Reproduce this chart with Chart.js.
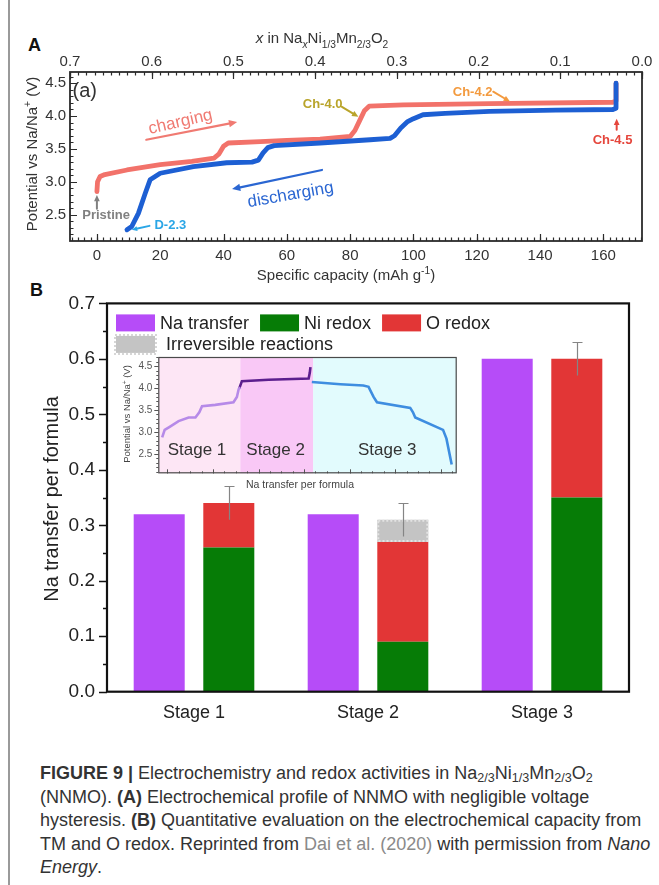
<!DOCTYPE html>
<html><head><meta charset="utf-8">
<script src="https://cdn.jsdelivr.net/npm/chart.js@4.4.1/dist/chart.umd.min.js"></script>
<style>
html,body{margin:0;padding:0;background:#fff;}
body{width:659px;height:885px;position:relative;overflow:hidden;font-family:"Liberation Sans",Arial,sans-serif;}
#edge{position:absolute;left:8px;top:0;width:2px;height:885px;background:#9a9a9a;}
canvas{position:absolute;}
#ca{left:0;top:0;}
#cb{left:0;top:280px;}
#ci{left:100px;top:345px;}
.letter{position:absolute;font:bold 18px "Liberation Sans",Arial,sans-serif;color:#111;}
#caption{position:absolute;left:40px;top:762px;white-space:nowrap;font-family:"Liberation Sans Narrow","Arial Narrow","Liberation Sans",Arial,sans-serif;font-size:18px;line-height:23.5px;color:#333;}
#caption sub{font-size:70%;vertical-align:-0.25em;line-height:0;}
#caption .lnk{color:#8a8a8a;}
</style></head>
<body>
<div id="edge"></div>
<div class="letter" style="left:28px;top:35px;">A</div>
<div class="letter" style="left:30px;top:280px;">B</div>
<canvas id="ca" width="659" height="290"></canvas>
<canvas id="cb" width="659" height="460"></canvas>
<canvas id="ci" width="370" height="150"></canvas>
<div id="caption"><b>FIGURE 9 |</b> Electrochemistry and redox activities in Na<sub>2/3</sub>Ni<sub>1/3</sub>Mn<sub>2/3</sub>O<sub>2</sub><br>(NNMO). <b>(A)</b> Electrochemical profile of NNMO with negligible voltage<br>hysteresis. <b>(B)</b> Quantitative evaluation on the electrochemical capacity from<br>TM and O redox. Reprinted from <span class="lnk">Dai et al. (2020)</span> with permission from <i>Nano</i><br><i>Energy</i>.</div>
<script>
// ---------------- DATA ----------------
// Panel A: charge / discharge profile (capacity in mAh/g, potential in V)
const chargeCapacity = [0, 0.2, 1, 2.5, 9.5, 20, 30, 37, 38.5, 40, 41.5, 51.6, 60, 70.5, 80, 81.5, 83, 84.5, 86, 96.8, 124, 163, 164, 164];
const chargeVoltage  = [2.85, 3.0, 3.08, 3.11, 3.18, 3.26, 3.31, 3.36, 3.42, 3.54, 3.59, 3.61, 3.63, 3.65, 3.69, 3.78, 3.93, 4.08, 4.15, 4.17, 4.19, 4.21, 4.23, 4.5];
const dischargeCapacity = [164, 164, 163, 145, 124, 110, 103, 100, 98, 96, 94, 92.6, 86.3, 70.5, 56, 54, 52.5, 51, 49, 41, 30.5, 20, 16.8, 15.3, 13.1, 11, 9.5];
const dischargeVoltage  = [4.5, 4.12, 4.1, 4.09, 4.07, 4.04, 4.02, 3.96, 3.91, 3.82, 3.7, 3.66, 3.64, 3.59, 3.55, 3.52, 3.44, 3.33, 3.30, 3.29, 3.23, 3.13, 3.03, 2.83, 2.52, 2.32, 2.27];
const capacityTicks = [0, 20, 40, 60, 80, 100, 120, 140, 160];
const naContentTicks = [0.7, 0.6, 0.5, 0.4, 0.3, 0.2, 0.1, 0.0];
const voltageTicks = [2.5, 3.0, 3.5, 4.0, 4.5];

// Panel B: bars
const stages = ['Stage 1', 'Stage 2', 'Stage 3'];
const naTransfer = [0.32, 0.32, 0.60];
const niRedox = [0.26, 0.09, 0.35];
const oRedox = [0.08, 0.18, 0.25];
const irreversible = [0, 0.04, 0];
const errorSize = [0.03, 0.03, 0.03];
const naTicks = [0.0, 0.1, 0.2, 0.3, 0.4, 0.5, 0.6, 0.7];

// Panel B inset: potential vs Na transfer per formula
const insetStage1X = [-0.023, -0.012, 0.01, 0.049, 0.093, 0.123, 0.14, 0.152, 0.21, 0.29, 0.305, 0.313, 0.32];
const insetStage1V = [2.88, 3.05, 3.12, 3.25, 3.33, 3.33, 3.45, 3.59, 3.62, 3.68, 3.80, 3.98, 4.02];
const insetStage2X = [0.316, 0.327, 0.444, 0.62, 0.625, 0.628];
const insetStage2V = [4.0, 4.16, 4.19, 4.22, 4.35, 4.48];
const insetStage3X = [0.634, 0.759, 0.86, 0.883, 0.905, 0.92, 1.066, 1.078, 1.088, 1.21, 1.225, 1.248];
const insetStage3V = [4.14, 4.09, 4.06, 4.03, 3.80, 3.68, 3.55, 3.45, 3.33, 3.05, 2.85, 2.26];
const insetStageBounds = [0.32, 0.64];
const insetStageNames = ['Stage 1', 'Stage 2', 'Stage 3'];
const insetVoltageTicks = [2.5, 3.0, 3.5, 4.0, 4.5];

// ---------------- HELPERS ----------------
const FF = '"Liberation Sans", Arial, sans-serif';
Chart.defaults.font.family = FF;
const pts = (xs, ys) => xs.map((v, i) => ({x: v, y: ys[i]}));
const steps = (a, b, s) => { const r = []; for (let v = a; v <= b + 1e-9; v += s) r.push(+v.toFixed(4)); return r; };

function drawRich(ctx, segs, cx, cy, size, color, rot) {
  ctx.save();
  ctx.translate(cx, cy); ctx.rotate(rot || 0);
  const parts = segs.map(s => {
    const fs = (s.k === 'sub' || s.k === 'sup') ? size * 0.68 : size;
    const font = (s.i ? 'italic ' : '') + (s.b ? 'bold ' : '') + fs + 'px ' + FF;
    ctx.font = font;
    return {s, font, w: ctx.measureText(s.t).width};
  });
  const total = parts.reduce((a, p) => a + p.w, 0);
  let x = -total / 2;
  ctx.fillStyle = color; ctx.textAlign = 'left'; ctx.textBaseline = 'alphabetic';
  const base = size * 0.36;
  parts.forEach(p => {
    ctx.font = p.font;
    const dy = p.s.k === 'sub' ? size * 0.28 : (p.s.k === 'sup' ? -size * 0.4 : 0);
    ctx.fillText(p.s.t, x, base + dy);
    x += p.w;
  });
  ctx.restore();
}
function arrow(ctx, x1, y1, x2, y2, color, w, head) {
  const ang = Math.atan2(y2 - y1, x2 - x1);
  ctx.save();
  ctx.strokeStyle = color; ctx.fillStyle = color; ctx.lineWidth = w; ctx.lineCap = 'round';
  ctx.beginPath(); ctx.moveTo(x1, y1);
  ctx.lineTo(x2 - Math.cos(ang) * head * 0.8, y2 - Math.sin(ang) * head * 0.8); ctx.stroke();
  ctx.beginPath();
  ctx.moveTo(x2, y2);
  ctx.lineTo(x2 - head * Math.cos(ang - 0.42), y2 - head * Math.sin(ang - 0.42));
  ctx.lineTo(x2 - head * Math.cos(ang + 0.42), y2 - head * Math.sin(ang + 0.42));
  ctx.closePath(); ctx.fill();
  ctx.restore();
}
function hTicks(ctx, scale, vals, yPos, len) {
  ctx.beginPath();
  vals.forEach(v => { if (v < Math.min(scale.min, scale.max) - 1e-9 || v > Math.max(scale.min, scale.max) + 1e-9) return;
    const px = Math.round(scale.getPixelForValue(v)) + 0.5; ctx.moveTo(px, yPos); ctx.lineTo(px, yPos + len); });
  ctx.stroke();
}
function vTicks(ctx, scale, vals, xPos, len) {
  ctx.beginPath();
  vals.forEach(v => { if (v < scale.min - 1e-9 || v > scale.max + 1e-9) return;
    const py = Math.round(scale.getPixelForValue(v)) + 0.5; ctx.moveTo(xPos, py); ctx.lineTo(xPos + len, py); });
  ctx.stroke();
}

// ---------------- PANEL A ----------------
const annA = [
  {type: 'text', t: [{t: '(a)'}], x: -7.7, y: 4.37, size: 20, color: '#333', align: 'left'},
  {type: 'text', t: [{t: 'charging'}], x: 26.3, y: 3.93, size: 17, color: '#f07a72', rot: -13},
  {type: 'arrow', x1: 15.6, y1: 3.64, x2: 44.3, y2: 3.91, color: '#f07a72', w: 2.2, head: 9},
  {type: 'text', t: [{t: 'discharging'}], x: 61.1, y: 2.82, size: 17, color: '#2a66d2', rot: -10},
  {type: 'arrow', x1: 71.1, y1: 3.18, x2: 42.7, y2: 2.89, color: '#2a66d2', w: 2.2, head: 9},
  {type: 'text', t: [{t: 'Pristine', b: 1}], x: 2.9, y: 2.5, size: 13, color: '#808080'},
  {type: 'arrow', x1: 0, y1: 2.59, x2: 0, y2: 2.80, color: '#808080', w: 2, head: 7},
  {type: 'text', t: [{t: 'D-2.3', b: 1}], x: 23.2, y: 2.36, size: 13, color: '#2aa6e6'},
  {type: 'arrow', x1: 16.6, y1: 2.33, x2: 11.0, y2: 2.27, color: '#2aa6e6', w: 2, head: 6},
  {type: 'text', t: [{t: 'Ch-4.0', b: 1}], x: 71.3, y: 4.2, size: 13, color: '#b9a42a'},
  {type: 'arrow', x1: 77.4, y1: 4.14, x2: 82.6, y2: 3.99, color: '#b9a42a', w: 2, head: 7},
  {type: 'text', t: [{t: 'Ch-4.2', b: 1}], x: 118.7, y: 4.37, size: 13, color: '#f39a3e'},
  {type: 'arrow', x1: 125.2, y1: 4.37, x2: 130.5, y2: 4.22, color: '#f39a3e', w: 2, head: 7},
  {type: 'text', t: [{t: 'Ch-4.5', b: 1}], x: 162.9, y: 3.64, size: 13, color: '#e5463c'},
  {type: 'arrow', x1: 164.2, y1: 3.79, x2: 164.2, y2: 3.96, color: '#e5463c', w: 2, head: 7}
];

const decorA = {
  id: 'decorA',
  afterDatasetsDraw(chart) {
    const {ctx, scales: {x, y}} = chart;
    annA.forEach(a => {
      if (a.type === 'text') {
        const px = x.getPixelForValue(a.x), py = y.getPixelForValue(a.y);
        if (a.align === 'left') {
          ctx.save(); ctx.font = a.size + 'px ' + FF; ctx.fillStyle = a.color; ctx.textBaseline = 'middle'; ctx.textAlign = 'left';
          ctx.fillText(a.t[0].t, px, py); ctx.restore();
        } else drawRich(ctx, a.t, px, py, a.size, a.color, (a.rot || 0) * Math.PI / 180);
      } else {
        arrow(ctx, x.getPixelForValue(a.x1), y.getPixelForValue(a.y1), x.getPixelForValue(a.x2), y.getPixelForValue(a.y2), a.color, a.w, a.head);
      }
    });
  },
  afterDraw(chart) {
    const {ctx, chartArea: a, scales: {x, x2, y}} = chart;
    ctx.save();
    ctx.strokeStyle = '#2b2b2b'; ctx.lineWidth = 1.2;
    hTicks(ctx, x, steps(-8, 172, 2), a.bottom, -3.5);
    hTicks(ctx, x, capacityTicks, a.bottom, -7);
    hTicks(ctx, x2, steps(0, 0.7, 0.01), a.top, 3.5);
    hTicks(ctx, x2, naContentTicks, a.top, 7);
    vTicks(ctx, y, steps(2.2, 4.6, 0.1), a.left, 3.5);
    vTicks(ctx, y, voltageTicks, a.left, 7);
    ctx.lineWidth = 1.8;
    ctx.strokeRect(a.left, a.top, a.right - a.left, a.bottom - a.top);
    ctx.restore();
    // axis titles
    drawRich(ctx, [{t: 'Potential vs Na/Na'}, {t: '+', k: 'sup'}, {t: ' (V)'}], 32, 154, 15, '#333', -Math.PI / 2);
    drawRich(ctx, [{t: 'Specific capacity (mAh g'}, {t: '-1', k: 'sup'}, {t: ')'}], 346, 275, 15, '#333');
    drawRich(ctx, [{t: 'x', i: 1}, {t: ' in Na'}, {t: 'x', k: 'sub', i: 1}, {t: 'Ni'}, {t: '1/3', k: 'sub'}, {t: 'Mn'}, {t: '2/3', k: 'sub'}, {t: 'O'}, {t: '2', k: 'sub'}], 322, 38, 15, '#333');
  }
};

const axisFontA = {size: 15, family: FF};
new Chart(document.getElementById('ca'), {
  type: 'scatter',
  data: {
    datasets: [
      {label: 'discharging', data: pts(dischargeCapacity, dischargeVoltage), showLine: true, borderColor: '#1d5fd3', borderWidth: 4.8, pointRadius: 0, order: 0, borderJoinStyle: 'round', borderCapStyle: 'round'},
      {label: 'charging', data: pts(chargeCapacity, chargeVoltage), showLine: true, borderColor: '#f2726a', borderWidth: 4.8, pointRadius: 0, order: 1, borderJoinStyle: 'round', borderCapStyle: 'round'},
      {label: 'top', data: [], xAxisID: 'x2', showLine: false, pointRadius: 0}
    ]
  },
  options: {
    responsive: false, animation: false,
    layout: {padding: {left: 0, right: 17, top: 0, bottom: 0}},
    plugins: {legend: {display: false}, tooltip: {enabled: false}},
    scales: {
      x: {type: 'linear', position: 'bottom', min: -8.5, max: 172.2,
        afterBuildTicks: s => { s.ticks = capacityTicks.map(v => ({value: v})); },
        afterFit: s => { s.height = 49; },
        grid: {display: false, drawTicks: false}, border: {display: false},
        ticks: {font: axisFontA, color: '#333', padding: 6, maxRotation: 0, autoSkip: false, callback: v => String(v)}},
      x2: {type: 'linear', position: 'top', min: 0, max: 0.7, reverse: true,
        afterBuildTicks: s => { s.ticks = naContentTicks.map(v => ({value: v})); },
        afterFit: s => { s.height = 72; },
        grid: {display: false, drawTicks: false}, border: {display: false},
        ticks: {font: axisFontA, color: '#333', padding: 1, maxRotation: 0, autoSkip: false, callback: v => Number(v).toFixed(1)}},
      y: {type: 'linear', min: 2.1, max: 4.67,
        afterBuildTicks: s => { s.ticks = voltageTicks.map(v => ({value: v})); },
        afterFit: s => { s.width = 70; },
        grid: {display: false, drawTicks: false}, border: {display: false},
        ticks: {font: axisFontA, color: '#333', padding: 4, autoSkip: false, callback: v => Number(v).toFixed(1)}}
    }
  },
  plugins: [decorA]
});

// ---------------- PANEL B ----------------
const colNa = '#b64cf8', colNi = '#067c06', colO = '#e23636', colIrr = '#c4c4c4';
const decorB = {
  id: 'decorB',
  afterDatasetsDraw(chart) {
    const {ctx, scales: {y}} = chart;
    // scalloped edge of the irreversible part
    const metaIrr = chart.getDatasetMeta(3);
    ctx.save();
    metaIrr.data.forEach((el, i) => {
      if (!irreversible[i]) return;
      const w = el.width, l = el.x - w / 2, t = Math.min(el.y, el.base), h = Math.abs(el.base - el.y);
      ctx.strokeStyle = '#e2e2e2'; ctx.lineWidth = 2; ctx.setLineDash([2, 2]);
      ctx.strokeRect(l + 1, t + 1, w - 2, h - 2);
      ctx.setLineDash([]);
    });
    ctx.restore();
    // error bars on the stacked (redox) bars
    const metaNi = chart.getDatasetMeta(1);
    ctx.save(); ctx.strokeStyle = '#858585'; ctx.lineWidth = 1.2;
    stages.forEach((s, i) => {
      const top = niRedox[i] + oRedox[i] + irreversible[i];
      const px = Math.round(metaNi.data[i].x) + 0.5;
      const yHi = y.getPixelForValue(top + errorSize[i]), yLo = y.getPixelForValue(top - errorSize[i]);
      ctx.beginPath(); ctx.moveTo(px, yLo); ctx.lineTo(px, yHi);
      ctx.moveTo(px - 5, Math.round(yHi) + 0.5); ctx.lineTo(px + 5, Math.round(yHi) + 0.5); ctx.stroke();
    });
    ctx.restore();
  },
  afterDraw(chart) {
    const {ctx, chartArea: a, scales: {y}} = chart;
    ctx.save();
    ctx.strokeStyle = '#111'; ctx.lineWidth = 1.4;
    vTicks(ctx, y, steps(0.05, 0.65, 0.1), a.left, -4);
    vTicks(ctx, y, naTicks, a.left, -8);
    ctx.lineWidth = 2.2;
    ctx.strokeRect(a.left, a.top, a.right - a.left, a.bottom - a.top);
    // legend
    const ds = chart.data.datasets;
    const rows = [[0, 1, 2], [3]];
    ctx.font = '18px ' + FF; ctx.textBaseline = 'middle'; ctx.textAlign = 'left';
    rows.forEach((row, r) => {
      let lx = a.left + 9;
      const cy = a.top + 19.5 + r * 21.5;
      row.forEach(di => {
        const d = ds[di];
        ctx.fillStyle = d.backgroundColor;
        ctx.fillRect(lx, cy - 8.5, 39, 17);
        if (di === 3) {
          ctx.strokeStyle = '#d6d6d6'; ctx.lineWidth = 2; ctx.setLineDash([2, 2]);
          ctx.strokeRect(lx - 1, cy - 9.5, 41, 19); ctx.setLineDash([]);
        }
        lx += 39 + (di === 3 ? 11 : 5);
        ctx.fillStyle = '#222';
        ctx.fillText(d.label, lx, cy + 1);
        lx += ctx.measureText(d.label).width + 11;
      });
    });
    ctx.restore();
    drawRich(ctx, [{t: 'Na transfer per formula'}], 51, 219, 20, '#222', -Math.PI / 2);
  }
};

new Chart(document.getElementById('cb'), {
  type: 'bar',
  data: {
    labels: stages,
    datasets: [
      {label: 'Na transfer', data: naTransfer, backgroundColor: colNa, stack: 'na'},
      {label: 'Ni redox', data: niRedox, backgroundColor: colNi, stack: 'redox'},
      {label: 'O redox', data: oRedox, backgroundColor: colO, stack: 'redox'},
      {label: 'Irreversible reactions', data: irreversible, backgroundColor: colIrr, stack: 'redox'}
    ]
  },
  options: {
    responsive: false, animation: false,
    categoryPercentage: 0.8, barPercentage: 0.733,
    layout: {padding: {left: 0, right: 30, top: 16, bottom: 0}},
    plugins: {legend: {display: false}, tooltip: {enabled: false}},
    scales: {
      x: {stacked: true, afterFit: s => { s.height = 48.3; },
        grid: {display: false, drawTicks: false}, border: {display: false},
        ticks: {font: {size: 18, family: FF}, color: '#222', padding: 11}},
      y: {stacked: true, min: 0, max: 0.7,
        afterBuildTicks: s => { s.ticks = naTicks.map(v => ({value: v})); },
        afterFit: s => { s.width = 107; },
        grid: {display: false, drawTicks: false}, border: {display: false},
        ticks: {font: {size: 19, family: FF}, color: '#222', padding: 12, autoSkip: false, callback: v => Number(v).toFixed(1)}}
    }
  },
  plugins: [decorB]
});

// ---------------- INSET ----------------
const insetBg = ['#fde6f5', '#f9c8f6', '#e2fbfd'];
const decorI = {
  id: 'decorI',
  beforeDatasetsDraw(chart) {
    const {ctx, chartArea: a, scales: {x}} = chart;
    const edges = [x.min, ...insetStageBounds, x.max];
    ctx.save();
    for (let i = 0; i < 3; i++) {
      const l = x.getPixelForValue(edges[i]), r = x.getPixelForValue(edges[i + 1]);
      ctx.fillStyle = insetBg[i];
      ctx.fillRect(l, a.top, r - l, a.bottom - a.top);
    }
    ctx.restore();
  },
  afterDraw(chart) {
    const {ctx, chartArea: a, scales: {x, y}} = chart;
    ctx.save();
    ctx.strokeStyle = '#555'; ctx.lineWidth = 1;
    vTicks(ctx, y, steps(2.1, 4.7, 0.1), a.left, -2);
    vTicks(ctx, y, insetVoltageTicks, a.left, -4);
    hTicks(ctx, x, steps(0, 1.25, 0.05), a.bottom, -2);
    hTicks(ctx, x, steps(0, 1.2, 0.2), a.bottom, -4);
    ctx.lineWidth = 1.2; ctx.strokeStyle = '#4a4a4a';
    ctx.strokeRect(a.left + 0.5, a.top + 0.5, a.right - a.left - 1, a.bottom - a.top - 1);
    ctx.restore();
    const labelX = [0.13, 0.475, 0.965];
    insetStageNames.forEach((n, i) => drawRich(ctx, [{t: n}], x.getPixelForValue(labelX[i]), a.bottom - 24, 17, '#333'));
    drawRich(ctx, [{t: 'Potential vs Na/Na'}, {t: '+', k: 'sup'}, {t: ' (V)'}], 27, 69, 9.5, '#444', -Math.PI / 2);
    drawRich(ctx, [{t: 'Na transfer per formula'}], 200, 139, 10.5, '#444');
  }
};
new Chart(document.getElementById('ci'), {
  type: 'scatter',
  data: {
    datasets: [
      {data: pts(insetStage1X, insetStage1V), showLine: true, borderColor: '#b68ae8', borderWidth: 2.6, pointRadius: 0},
      {data: pts(insetStage2X, insetStage2V), showLine: true, borderColor: '#5c1f8e', borderWidth: 2.6, pointRadius: 0},
      {data: pts(insetStage3X, insetStage3V), showLine: true, borderColor: '#3e8de0', borderWidth: 2.6, pointRadius: 0}
    ]
  },
  options: {
    responsive: false, animation: false,
    layout: {padding: {left: 0, right: 13.3, top: 4.3, bottom: 0}},
    plugins: {legend: {display: false}, tooltip: {enabled: false}},
    scales: {
      x: {type: 'linear', min: -0.04, max: 1.27,
        afterFit: s => { s.height = 21.7; },
        grid: {display: false, drawTicks: false}, border: {display: false},
        ticks: {display: false}},
      y: {type: 'linear', min: 2.06, max: 4.71,
        afterBuildTicks: s => { s.ticks = insetVoltageTicks.map(v => ({value: v})); },
        afterFit: s => { s.width = 58.3; },
        grid: {display: false, drawTicks: false}, border: {display: false},
        ticks: {font: {size: 10, family: FF}, color: '#555', padding: 6, autoSkip: false, callback: v => Number(v).toFixed(1)}}
    }
  },
  plugins: [decorI]
});
</script>
</body></html>
